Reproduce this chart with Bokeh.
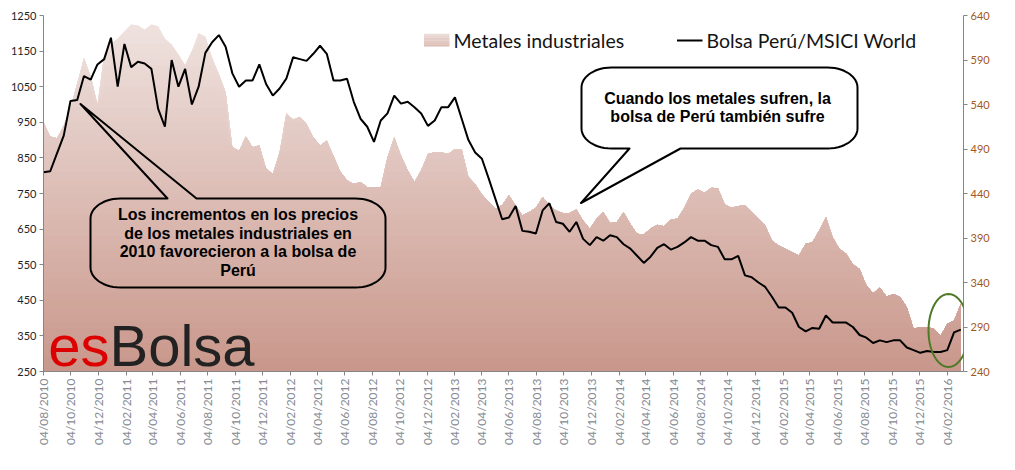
import numpy as np
import pandas as pd
from bokeh.plotting import figure
from bokeh.models import Range1d, LinearAxis, FixedTicker, PolyAnnotation
from bokeh.core.properties import value
from bokeh.embed import file_html
from bokeh.resources import INLINE

# ---------------- data ----------------
start_date = "2010-08-04"
step_days = 15
axis_end_date = "2016-03-11"

metales = [950, 910, 905, 940, 990, 1060, 1130, 1080, 1000, 1140,
           1170, 1185, 1205, 1225, 1222, 1210, 1225, 1220, 1185, 1168,
           1140, 1110, 1150, 1200, 1190, 1130, 1085, 1035, 880, 870,
           910, 880, 885, 820, 805, 865, 975, 958, 965, 945,
           908, 885, 899, 855, 812, 787, 777, 782, 768, 768,
           768, 852, 908, 857, 815, 782, 815, 861, 866, 866,
           861, 875, 875, 796, 777, 747, 726, 707, 718, 745,
           716, 688, 698, 710, 740, 716, 702, 695, 695, 705,
           674, 651, 679, 698, 667, 670, 698, 665, 637, 635,
           652, 662, 658, 676, 680, 709, 749, 761, 752, 766,
           765, 720, 710, 715, 716, 698, 679, 660, 618, 604,
           595, 585, 576, 609, 613, 646, 684, 627, 595, 581,
           551, 538, 492, 470, 485, 461, 468, 459, 431, 370,
           375, 375, 370, 350, 384, 393, 440]

bolsa = [464, 465, 485, 505, 544, 545, 572, 568, 585, 591,
         615, 560, 608, 582, 588, 586, 580, 535, 515, 590,
         560, 580, 540, 560, 598, 610, 618, 605, 575, 560,
         567, 567, 585, 563, 550, 558, 569, 593, 591, 589,
         597, 606, 597, 567, 567, 569, 543, 524, 515, 498,
         522, 530, 550, 541, 543, 537, 530, 516, 522, 537,
         537, 548, 524, 500, 486, 479, 457, 434, 411, 413,
         426, 398, 397, 395, 421, 429, 408, 406, 397, 408,
         389, 382, 391, 387, 393, 391, 383, 378, 370, 362,
         369, 379, 383, 377, 380, 385, 391, 387, 387, 382,
         380, 366, 366, 370, 348, 346, 340, 335, 324, 312,
         312, 306, 290, 285, 289, 288, 303, 295, 295, 295,
         290, 281, 278, 272, 275, 273, 275, 275, 267, 264,
         261, 263, 262, 262, 264, 284, 287]

tick_labels = ["04/08/2010", "04/10/2010", "04/12/2010",
               "04/02/2011", "04/04/2011", "04/06/2011", "04/08/2011", "04/10/2011", "04/12/2011",
               "04/02/2012", "04/04/2012", "04/06/2012", "04/08/2012", "04/10/2012", "04/12/2012",
               "04/02/2013", "04/04/2013", "04/06/2013", "04/08/2013", "04/10/2013", "04/12/2013",
               "04/02/2014", "04/04/2014", "04/06/2014", "04/08/2014", "04/10/2014", "04/12/2014",
               "04/02/2015", "04/04/2015", "04/06/2015", "04/08/2015", "04/10/2015", "04/12/2015",
               "04/02/2016"]
left_ticks = [250, 350, 450, 550, 650, 750, 850, 950, 1050, 1150, 1250]
right_ticks = [240, 290, 340, 390, 440, 490, 540, 590, 640]
series_names = ["Metales industriales", "Bolsa Perú/MSICI World"]
note_left = ["Los incrementos en los precios", "de los metales industriales en",
             "2010 favorecieron a la bolsa de", "Perú"]
note_right = ["Cuando los metales sufren, la", "bolsa de Perú también sufre"]

# ---------------- helpers ----------------
def ms(ts):
    return float(pd.Timestamp(ts).value // 10**6)

dates = pd.date_range(start_date, periods=len(metales), freq=f"{step_days}D")
x = np.array([ms(d) for d in dates])
x_start, x_end = ms(start_date), ms(axis_end_date)
tick_ms = [ms(pd.to_datetime(t, format="%d/%m/%Y")) for t in tick_labels]

L_LO, L_HI = 250, 1250
R_LO, R_HI = 240, 640

W, H = 999, 454
FX0, FX1, FY0, FY1 = 43, 963, 15, 371   # plot frame in page pixels

def dx(px):
    return x_start + (px - FX0) / (FX1 - FX0) * (x_end - x_start)
def dy(py):
    return L_HI - (py - FY0) / (FY1 - FY0) * (L_HI - L_LO)

p = figure(width=W, height=H, x_range=Range1d(x_start, x_end),
           y_range=Range1d(L_LO, L_HI), output_backend="svg",
           toolbar_location=None, min_border_left=FX0, min_border_right=W - FX1,
           min_border_top=FY0, min_border_bottom=H - FY1)
p.extra_y_ranges = {"right": Range1d(R_LO, R_HI)}
p.outline_line_color = None
p.grid.visible = False
p.background_fill_color = "white"
p.border_fill_color = "white"

AX_GRAY = "#868686"
def style_axis(ax, color, size):
    ax.axis_line_color = AX_GRAY
    ax.major_tick_line_color = AX_GRAY
    ax.minor_tick_line_color = None
    ax.major_tick_out = 4
    ax.major_tick_in = 0
    ax.major_label_text_font = "Lato"
    ax.major_label_text_font_size = size
    ax.major_label_text_color = color
    ax.major_label_standoff = 3

ya = p.yaxis[0]
ya.ticker = FixedTicker(ticks=left_ticks)
style_axis(ya, "#1e1e1e", "11px")

yr = LinearAxis(y_range_name="right", ticker=FixedTicker(ticks=right_ticks))
style_axis(yr, "#a5571b", "11px")
p.add_layout(yr, "right")

xa = p.xaxis[0]
xa.ticker = FixedTicker(ticks=tick_ms)
xa.major_label_overrides = {t: lbl for t, lbl in zip(tick_ms, tick_labels)}
xa.major_label_orientation = np.pi / 2
style_axis(xa, "#868a93", "12px")

# ---------------- gradient area ----------------
top_rgb = np.array([240, 228, 225])
bot_rgb = np.array([201, 151, 139])
def grad(v):
    f = (v - L_LO) / (L_HI - L_LO)
    c = bot_rgb + (top_rgb - bot_rgb) * f
    return "#%02x%02x%02x" % tuple(int(round(q)) for q in c)

met = np.array(metales, dtype=float)
band_tops = np.arange(L_LO + 20, L_HI + 1, 20)
for t in band_tops[::-1]:
    p.varea(x=x, y1=L_LO, y2=np.minimum(met, t), fill_color=grad(t - 10),
            fill_alpha=1.0)

# ---------------- line ----------------
p.line(x, bolsa, y_range_name="right", line_color="black", line_width=2)

# ---------------- callouts ----------------
def callout(x0, x1, y0, y1, rx, ry, edge, ba, bb, tip):
    pts = []
    def arc(cx, cy, a0, a1):
        for a in np.linspace(a0, a1, 14):
            pts.append((cx + rx * np.cos(a), cy + ry * np.sin(a)))
    pts.append((x0 + rx, y0))
    if edge == "top":
        pts += [(ba, y0), tip, (bb, y0)]
    arc(x1 - rx, y0 + ry, -np.pi / 2, 0)
    arc(x1 - rx, y1 - ry, 0, np.pi / 2)
    if edge == "bottom":
        pts += [(bb, y1), tip, (ba, y1)]
    arc(x0 + rx, y1 - ry, np.pi / 2, np.pi)
    arc(x0 + rx, y0 + ry, np.pi, 1.5 * np.pi)
    xs = [dx(a) for a, b in pts]
    ys = [dy(b) for a, b in pts]
    return xs, ys

cx1, cy1 = callout(90, 385, 198, 287, 30, 20, "top", 167, 196, (80, 103.5))
p.patch(cx1, cy1, fill_color=None, line_color="black", line_width=2, line_join="round")
cx2, cy2 = callout(581, 857, 67, 148, 30, 20, "bottom", 629, 680, (580.5, 202.5))
p.patch(cx2, cy2, fill_color="white", line_color="black", line_width=2, line_join="round")

p.text(x=[dx(237.5)] * 4, y=[dy(v) for v in (214, 232.5, 251, 269.5)], text=note_left,
       text_font=value("Liberation Sans"), text_font_style="bold",
       text_font_size="16px", text_align="center", text_baseline="middle",
       text_color="black")
p.text(x=[dx(717)] * 2, y=[dy(v) for v in (97.5, 116)], text=note_right,
       text_font=value("Liberation Sans"), text_font_style="bold",
       text_font_size="16px", text_align="center", text_baseline="middle",
       text_color="black")

# ---------------- highlight ellipse ----------------
ang = np.linspace(0, 2 * np.pi, 73)
ell_x = [dx(948 + 20 * np.cos(a)) for a in ang]
ell_y = [dy(330 + 36.5 * np.sin(a)) for a in ang]
p.add_layout(PolyAnnotation(xs=ell_x, ys=ell_y, fill_color=None, fill_alpha=0,
                            line_color="#4e7a27", line_alpha=1.0, line_width=2))

# ---------------- logo ----------------
p.text(x=[dx(109)], y=[dy(345)], text=["es"], text_font=value("Liberation Sans"),
       text_font_size="58px", text_align="right", text_baseline="middle",
       text_color="#dd0000")
p.text(x=[dx(109)], y=[dy(345)], text=["Bolsa"], text_font=value("Liberation Sans"),
       text_font_size="58px", text_align="left", text_baseline="middle",
       text_color="#222222")

# ---------------- legend ----------------
sw_edges = np.linspace(33.3, 46, 7)
p.quad(left=dx(423.5), right=dx(449),
       top=[dy(v) for v in sw_edges[:-1]], bottom=[dy(v) for v in sw_edges[1:]],
       fill_color=[grad(1150 - 90 * k) for k in range(6)], line_color=None)
p.segment(x0=[dx(676.5)], y0=[dy(40)], x1=[dx(702)], y1=[dy(40)],
          line_color="black", line_width=2)
p.text(x=[dx(453), dx(706)], y=[dy(40), dy(40)], text=series_names,
       text_font=value("Lato"), text_font_size="19.5px", text_align="left",
       text_baseline="middle", text_color="#141414")

open("out.html", "w").write(file_html(p, INLINE))
